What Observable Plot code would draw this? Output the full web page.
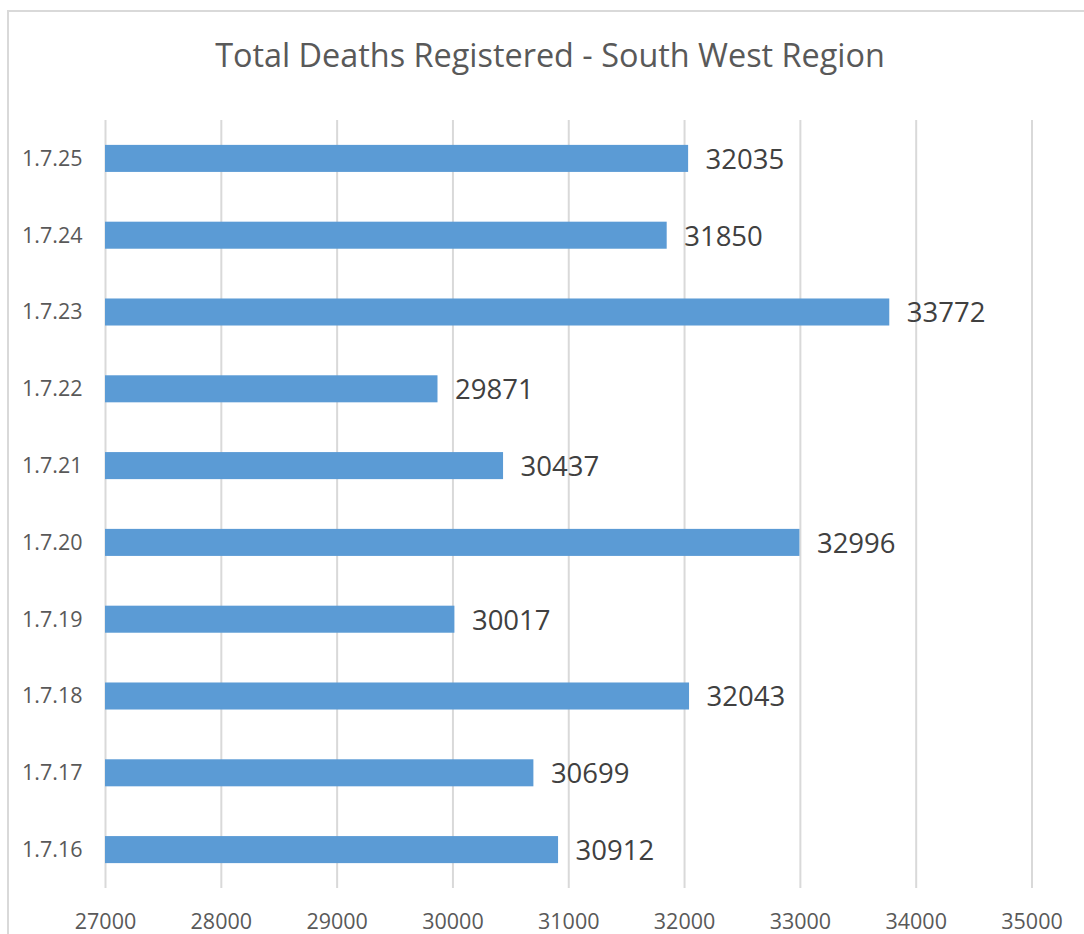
<!DOCTYPE html>
<html>
<head>
<meta charset="utf-8">
<script src="https://cdn.jsdelivr.net/npm/d3@7"></script>
<script src="https://cdn.jsdelivr.net/npm/@observablehq/plot@0.6"></script>
<style>
  html, body { margin: 0; padding: 0; background: #fff; overflow: hidden; }
  body { width: 1084px; height: 934px; position: relative; font-family: "Open Sans", sans-serif; }
  #frame { position: absolute; left: 7px; top: 10px; width: 1200px; height: 1000px;
           border-left: 2px solid #d9d9d9; border-top: 2px solid #d9d9d9; box-sizing: border-box; }
  #title { position: absolute; left: 7px; width: 1086px; top: 30px; text-align: center;
           font-size: 32.4px; color: #595959; line-height: 48px; }
  #chart { position: absolute; left: 0; top: 0; }
</style>
</head>
<body>
<div id="frame"></div>
<div id="title">Total Deaths Registered - South West Region</div>
<div id="chart"></div>
<script>
const categories = ["1.7.25", "1.7.24", "1.7.23", "1.7.22", "1.7.21", "1.7.20", "1.7.19", "1.7.18", "1.7.17", "1.7.16"];
const values = [32035, 31850, 33772, 29871, 30437, 32996, 30017, 32043, 30699, 30912];
const xTicks = [27000, 28000, 29000, 30000, 31000, 32000, 33000, 34000, 35000];

const data = categories.map((c, i) => ({ date: c, value: values[i] }));

const chart = Plot.plot({
  width: 1084,
  height: 934,
  marginLeft: 105,
  marginRight: 52.5,
  marginTop: 120,
  marginBottom: 46,
  style: { fontFamily: "'Open Sans', sans-serif", background: "transparent", overflow: "visible" },
  x: { domain: [27000, 35000], ticks: xTicks, label: null },
  y: { domain: categories, paddingInner: 0.648, paddingOuter: 0.324, round: false, label: null },
  marks: [
    Plot.ruleX(xTicks, { stroke: "#d9d9d9", strokeWidth: 2 }),
    Plot.barX(data, { y: "date", x1: 27000, x2: "value", fill: "#5B9BD5" }),
    Plot.text(data, { y: "date", x: "value", text: d => String(d.value), textAnchor: "start",
      dx: 17, dy: 1, fontSize: 27.5, fill: "#404040" }),
    Plot.axisY({ tickSize: 0, tickPadding: 23, fontSize: 21.5, color: "#595959", label: null }),
    Plot.axisX({ ticks: xTicks, tickSize: 0, tickPadding: 25, fontSize: 21.5, color: "#595959",
      tickFormat: d => String(d), label: null })
  ]
});
document.getElementById("chart").appendChild(chart);
</script>
</body>
</html>
